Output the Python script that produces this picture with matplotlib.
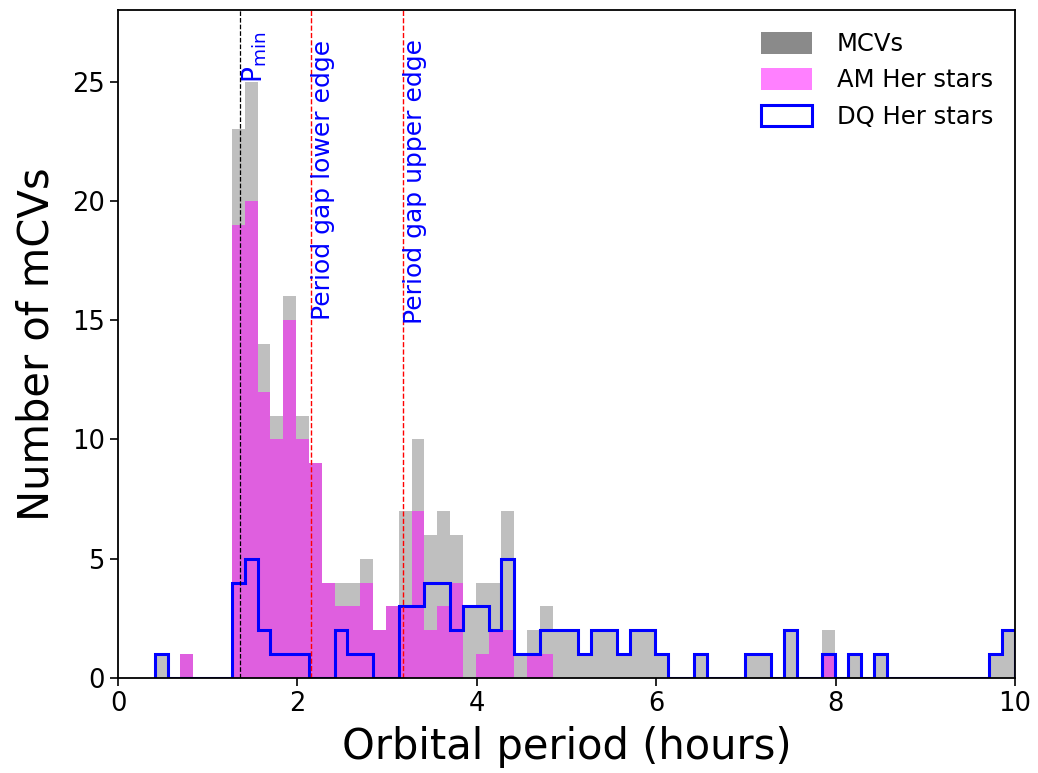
import matplotlib
matplotlib.use("Agg")
import matplotlib.pyplot as plt
import numpy as np
from matplotlib.patches import Patch

# Histogram bins (hours): 67 equal bins from 0.41 h to 10.0 h
bin_lo, bin_hi, n_bins = 0.41, 10.0, 67

# Counts per bin
mcv_counts = [1, 0, 1, 0, 0, 0, 23, 25, 14, 11, 16, 11, 9, 4, 4, 4, 5, 2, 3, 7,
              10, 6, 7, 6, 3, 4, 4, 7, 1, 2, 3, 2, 2, 1, 2, 2, 1, 2, 2, 1,
              0, 0, 1, 0, 0, 0, 1, 1, 0, 2, 0, 0, 2, 0, 1, 0, 1, 0, 0, 0,
              0, 0, 0, 0, 0, 1, 2]
amher_counts = [0, 0, 1, 0, 0, 0, 19, 20, 12, 10, 15, 10, 9, 4, 3, 3, 4, 2, 3, 3,
                7, 2, 3, 4, 0, 1, 2, 2, 0, 1, 1, 0, 0, 0, 0, 0, 0, 0, 0, 0,
                0, 0, 0, 0, 0, 0, 0, 0, 0, 0, 0, 0, 1, 0, 0, 0, 0, 0, 0, 0,
                0, 0, 0, 0, 0, 0, 0]
dqher_counts = [1, 0, 0, 0, 0, 0, 4, 5, 2, 1, 1, 1, 0, 0, 2, 1, 1, 0, 0, 3,
                3, 4, 4, 2, 3, 3, 2, 5, 1, 1, 2, 2, 2, 1, 2, 2, 1, 2, 2, 1,
                0, 0, 1, 0, 0, 0, 1, 1, 0, 2, 0, 0, 1, 0, 1, 0, 1, 0, 0, 0,
                0, 0, 0, 0, 0, 1, 2]

p_min = 1.36
gap_lower = 2.15
gap_upper = 3.18

edges = np.linspace(bin_lo, bin_hi, n_bins + 1)
centers = 0.5 * (edges[:-1] + edges[1:])

fig = plt.figure(figsize=(10.38, 7.73), dpi=100)
ax = fig.add_axes([0.1137, 0.1229, 0.8641, 0.8642])

ax.hist(centers, bins=edges, weights=mcv_counts, color="gray", alpha=0.5)
ax.hist(centers, bins=edges, weights=amher_counts, color="magenta", alpha=0.5)
ax.hist(centers, bins=edges, weights=dqher_counts, histtype="step",
        color="blue", lw=2.2)

ax.axvline(p_min, color="k", ls="--", lw=0.9)
ax.axvline(gap_lower, color="red", ls="--", lw=1.0)
ax.axvline(gap_upper, color="red", ls="--", lw=1.0)

ax.text(p_min, 24.95, r"$\mathrm{P_{min}}$", rotation=90, color="blue",
        fontsize=19, ha="left", va="bottom")
ax.text(gap_lower, 15.0, "Period gap lower edge", rotation=90, color="blue",
        fontsize=18, ha="left", va="bottom")
ax.text(gap_upper, 14.85, "Period gap upper edge", rotation=90, color="blue",
        fontsize=18, ha="left", va="bottom")

ax.set_xlim(0, 10)
ax.set_ylim(0, 28)
ax.set_yticks([0, 5, 10, 15, 20, 25])
ax.set_xlabel("Orbital period (hours)", fontsize=30, labelpad=6)
ax.set_ylabel("Number of mCVs", fontsize=30, labelpad=10)
ax.tick_params(labelsize=18.5, length=6, width=1.2)
for s in ax.spines.values():
    s.set_linewidth(1.3)

handles = [
    Patch(facecolor="#8a8a8a", edgecolor="none"),
    Patch(facecolor="#ff80ff", edgecolor="none"),
    Patch(facecolor="white", edgecolor="blue", lw=2.2),
]
ax.legend(handles, ["MCVs", "AM Her stars", "DQ Her stars"], loc="upper right",
          frameon=False, fontsize=17.5, handlelength=2.1, handleheight=1.0,
          handletextpad=1.0, borderaxespad=0.5, labelspacing=0.5)

fig.savefig("out.png", dpi=100)
